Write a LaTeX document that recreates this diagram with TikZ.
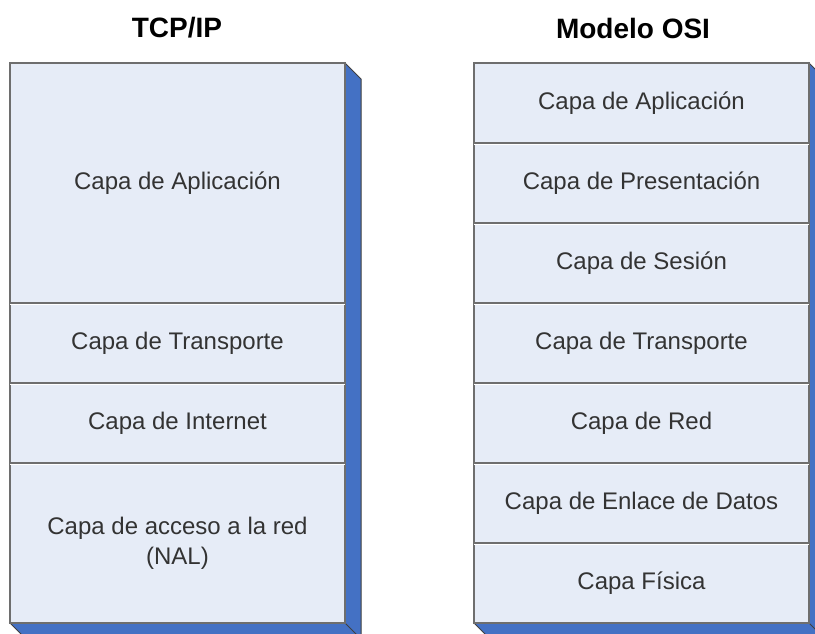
\documentclass[tikz,border=0pt]{standalone}
\usepackage{fontspec}
\setmainfont{Liberation Sans}
\usepackage{tikz}
\usetikzlibrary{positioning}
\definecolor{capafill}{HTML}{E6ECF7}
\definecolor{ladoazul}{HTML}{4471C4}
\definecolor{borde}{HTML}{6E6E6E}
\definecolor{texto}{HTML}{333333}

\begin{document}
\begin{tikzpicture}[x=1pt,y=-1pt,
    capa/.style={draw=borde, line width=1.5pt, fill=capafill, minimum width=335pt,
      text=texto, font=\fontsize{24}{30}\selectfont, align=center, inner sep=0pt, outer sep=0pt},
    lado/.style={fill=ladoazul, draw=black!75, line width=1pt},
    titulo/.style={font=\bfseries\fontsize{28}{32}\selectfont}]
    \useasboundingbox[fill=white] (0,0) rectangle (815,634);
    % titulos
    \node[titulo] (ttcp) at (177,28) {TCP/IP};
    \node[titulo] (tosi) at (633,28) {Modelo OSI};

    % pila TCP/IP
    \node[capa, minimum height=240pt, anchor=north west] (tapp) at (10,63) {Capa de Aplicación};
    \node[capa, minimum height=80pt, below=0pt of tapp] (ttra) {Capa de Transporte};
    \node[capa, minimum height=80pt, below=0pt of ttra] (tint) {Capa de Internet};
    \node[capa, minimum height=160pt, below=0pt of tint] (tnal) {Capa de acceso a la red\\(NAL)};
    \draw[lado] (tapp.north east) -- ++(16,16) -- ++(0,560) -- ++(-335,0) -- ++(-16,-16) -- (tnal.south east) -- cycle;
    \draw[black!75, line width=1pt] (tnal.south east) -- ++(16,16);
    \draw[borde, line width=2pt] (tapp.north west) rectangle (tnal.south east);

    % pila OSI
    \node[capa, minimum height=80pt, anchor=north west] (oapl) at (474,63) {Capa de Aplicación};
    \node[capa, minimum height=80pt, below=0pt of oapl] (opre) {Capa de Presentación};
    \node[capa, minimum height=80pt, below=0pt of opre] (oses) {Capa de Sesión};
    \node[capa, minimum height=80pt, below=0pt of oses] (otra) {Capa de Transporte};
    \node[capa, minimum height=80pt, below=0pt of otra] (ored) {Capa de Red};
    \node[capa, minimum height=80pt, below=0pt of ored] (oenl) {Capa de Enlace de Datos};
    \node[capa, minimum height=80pt, below=0pt of oenl] (ofis) {Capa Física};
    \draw[lado] (oapl.north east) -- ++(16,16) -- ++(0,560) -- ++(-335,0) -- ++(-16,-16) -- (ofis.south east) -- cycle;
    \draw[black!75, line width=1pt] (ofis.south east) -- ++(16,16);
    \draw[borde, line width=2pt] (oapl.north west) rectangle (ofis.south east);

    % brillo bajo las divisiones
    \foreach \capa in {ttra,tint,tnal,opre,oses,otra,ored,oenl,ofis}
      \draw[white, line width=1pt] ([yshift=-1.5pt]\capa.north west) -- ([yshift=-1.5pt]\capa.north east);
\end{tikzpicture}
\end{document}
